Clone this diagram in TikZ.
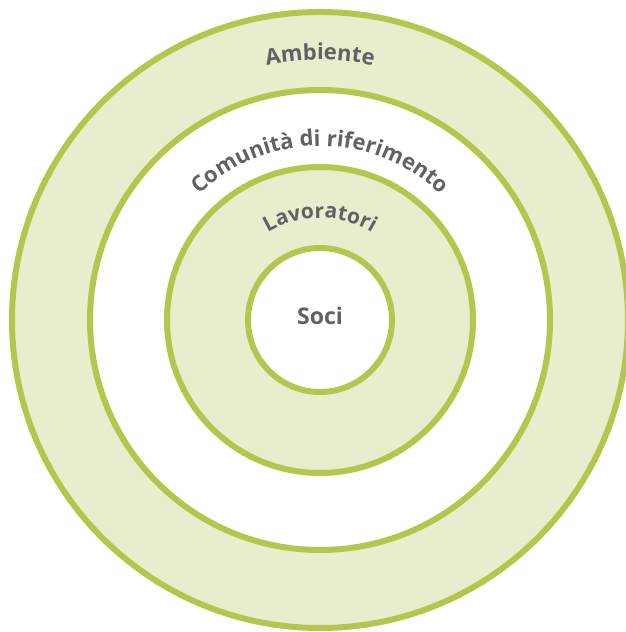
\documentclass[tikz,border=0pt]{standalone}
\usepackage{fontspec}
\setsansfont{Open Sans}
\usepackage{xcolor}
\definecolor{ringfill}{HTML}{E8EDCD}
\definecolor{ringline}{HTML}{B3C74C}
\definecolor{labelgray}{HTML}{626264}
\usetikzlibrary{calc,decorations.text}
\newcommand{\bigfont}{\sffamily\bfseries\fontsize{23}{23}\selectfont}
\newcommand{\arcfont}{\sffamily\bfseries\fontsize{22}{22}\selectfont}
\newcommand{\smallfont}{\sffamily\bfseries\fontsize{21}{21}\selectfont}

\begin{document}
\begin{tikzpicture}[
  x=1pt, y=1pt,
  ring/.style={circle, draw=ringline, line width=6pt, inner sep=0pt, minimum size=#1},
  lbl/.style={font=\bigfont, text=labelgray},
  arctext/.style 2 args={decorate, decoration={text along path, text align=center,
      text color=labelgray, text={|#1|#2}}},
]
  \useasboundingbox (0,0) rectangle (626,632);
  \clip (0,0) rectangle (626,632);
  \coordinate (c) at (320,312);

  % rings, outside in
  \node[ring=616pt, fill=ringfill] (ambiente) at (c) {};
  \node[ring=460pt, fill=white] (comunita) at (c) {};
  \node[ring=306pt, fill=ringfill] (lavoratori) at (c) {};
  \node[ring=144pt, fill=white] (soci) at (c) {};

  % labels
  \node[lbl] (socilbl) at ($(c)+(0,4)$) {Soci};
  \path[arctext={\arcfont}{Ambiente}] ($(c)+(180:260)$) arc[start angle=180, end angle=0, radius=260];
  \path[arctext={\arcfont}{Comunità di riferimento}] ($(c)+(180:174)$) arc[start angle=180, end angle=0, radius=174];
  \path[arctext={\smallfont}{Lavoratori}] ($(c)+(180:102)$) arc[start angle=180, end angle=0, radius=102];
\end{tikzpicture}
\end{document}
